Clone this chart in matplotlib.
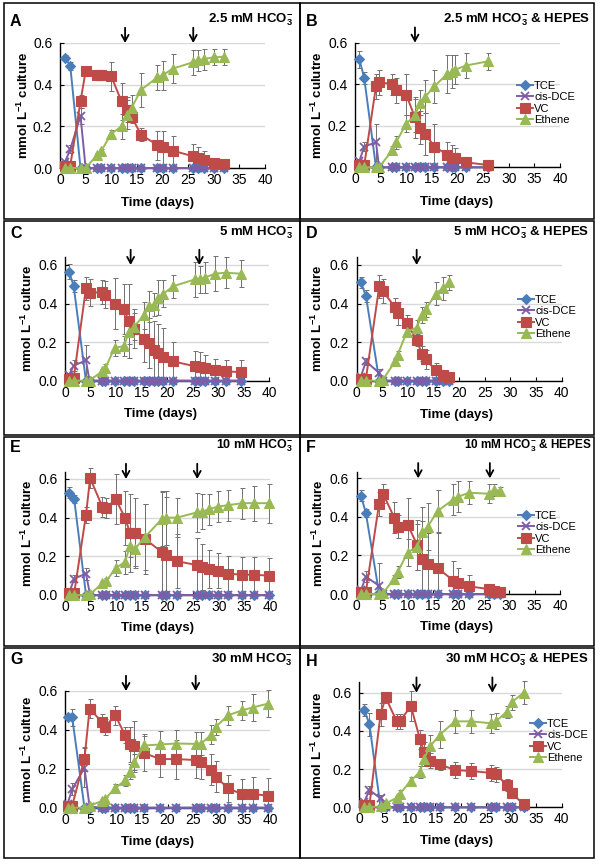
import matplotlib
matplotlib.use('Agg')
import matplotlib.pyplot as plt
from matplotlib.patches import Rectangle

plt.rcParams['font.family'] = ['Liberation Sans', 'DejaVu Sans']
plt.rcParams['mathtext.fontset'] = 'custom'
plt.rcParams['mathtext.rm'] = 'Liberation Sans:bold'
plt.rcParams['mathtext.it'] = 'Liberation Sans:bold'
plt.rcParams['mathtext.bf'] = 'Liberation Sans:bold'

# ---- data (mmol/L culture vs days) ----
A_t = [1, 2, 4, 5, 7.3, 8, 10, 12, 13, 14, 15.8, 19, 20, 22, 26, 27, 28, 30, 32]
A_tce = [0.53, 0.49, 0, 0, 0, 0, 0, 0, 0, 0, 0, 0, 0, 0, 0, 0, 0, 0, 0]
A_dce = [0.03, 0.09, 0.25, 0, 0, 0, 0, 0, 0, 0, 0, 0, 0, 0, 0, 0, 0, 0, 0]
A_vc = [0.01, 0.01, 0.32, 0.465, 0.445, 0.445, 0.44, 0.32, 0.28, 0.245, 0.16, 0.11, 0.10, 0.083, 0.056, 0.05, 0.04, 0.024, 0.02]
A_eth = [0, 0, 0, 0, 0.064, 0.08, 0.164, 0.20, 0.255, 0.29, 0.375, 0.435, 0.445, 0.477, 0.508, 0.517, 0.522, 0.532, 0.533]
A_tce_err = [0.01, 0.02, 0, 0, 0, 0, 0, 0, 0, 0, 0, 0, 0, 0, 0, 0, 0, 0, 0]
A_dce_err = [0.01, 0.02, 0.04, 0, 0, 0, 0, 0, 0, 0, 0, 0, 0, 0, 0, 0, 0, 0, 0]
A_vc_err = [0.01, 0.01, 0.03, 0.025, 0.01, 0.01, 0.07, 0.09, 0.06, 0.03, 0.03, 0.07, 0.08, 0.07, 0.06, 0.05, 0.04, 0.02, 0.02]
A_eth_err = [0, 0, 0, 0, 0.01, 0.01, 0.02, 0.06, 0.07, 0.06, 0.08, 0.06, 0.07, 0.07, 0.06, 0.05, 0.05, 0.04, 0.04]

B_t = [0.85, 1.8, 4.1, 4.7, 7.3, 8, 10, 11.7, 12.7, 13.7, 15.5, 18, 19, 19.6, 21.6, 25.9]
B_tce = [0.52, 0.43, 0, 0, 0, 0, 0, 0, 0, 0, 0, 0, 0, 0, 0, 0]
B_dce = [0.03, 0.10, 0.12, 0, 0, 0, 0, 0, 0, 0, 0, 0, 0, 0, 0, 0]
B_vc = [0.01, 0.01, 0.39, 0.41, 0.40, 0.37, 0.35, 0.24, 0.19, 0.16, 0.10, 0.06, 0.047, 0.043, 0.024, 0.011]
B_eth = [0, 0, 0, 0, 0.083, 0.12, 0.21, 0.25, 0.31, 0.34, 0.39, 0.45, 0.46, 0.47, 0.49, 0.51]
B_tce_err = [0.04, 0.03, 0, 0, 0, 0, 0, 0, 0, 0, 0, 0, 0, 0, 0, 0]
B_dce_err = [0.01, 0.02, 0.09, 0, 0, 0, 0, 0, 0, 0, 0, 0, 0, 0, 0, 0]
B_vc_err = [0.01, 0.01, 0.06, 0.06, 0.05, 0.06, 0.10, 0.10, 0.08, 0.10, 0.11, 0.06, 0.06, 0.05, 0.02, 0.02]
B_eth_err = [0, 0, 0, 0, 0.02, 0.03, 0.04, 0.08, 0.06, 0.08, 0.08, 0.09, 0.08, 0.07, 0.06, 0.04]

C_t = [0.8, 1.7, 4.1, 4.8, 7.3, 7.9, 9.7, 11.5, 12.5, 13.5, 15.5, 16.5, 17.4, 18.3, 19.2, 21.2, 25.4, 26.4, 27.4, 29.4, 31.5, 34.4]
C_tce = [0.565, 0.49, 0, 0, 0, 0, 0, 0, 0, 0, 0, 0, 0, 0, 0, 0, 0, 0, 0, 0, 0, 0]
C_dce = [0.03, 0.078, 0.105, 0, 0, 0, 0, 0, 0, 0, 0, 0, 0, 0, 0, 0, 0, 0, 0, 0, 0, 0]
C_vc = [0.01, 0.012, 0.48, 0.455, 0.46, 0.445, 0.40, 0.37, 0.31, 0.27, 0.215, 0.195, 0.16, 0.145, 0.125, 0.10, 0.075, 0.07, 0.065, 0.055, 0.048, 0.045]
C_eth = [0, 0, 0, 0, 0.05, 0.065, 0.17, 0.18, 0.25, 0.28, 0.34, 0.385, 0.395, 0.43, 0.45, 0.49, 0.525, 0.525, 0.535, 0.555, 0.56, 0.555]
C_tce_err = [0.04, 0.03, 0, 0, 0, 0, 0, 0, 0, 0, 0, 0, 0, 0, 0, 0, 0, 0, 0, 0, 0, 0]
C_dce_err = [0.01, 0.03, 0.08, 0, 0, 0, 0, 0, 0, 0, 0, 0, 0, 0, 0, 0, 0, 0, 0, 0, 0, 0]
C_vc_err = [0.01, 0.01, 0.06, 0.07, 0.06, 0.07, 0.13, 0.13, 0.19, 0.10, 0.12, 0.13, 0.15, 0.15, 0.15, 0.10, 0.08, 0.08, 0.07, 0.06, 0.06, 0.06]
C_eth_err = [0, 0, 0, 0, 0.01, 0.02, 0.04, 0.05, 0.06, 0.07, 0.07, 0.08, 0.06, 0.09, 0.07, 0.06, 0.09, 0.07, 0.08, 0.09, 0.08, 0.07]

D_t = [0.8, 1.8, 4.4, 5.1, 7.5, 8, 9.8, 11.7, 12.7, 13.5, 15.4, 16.8, 18.1]
D_tce = [0.51, 0.44, 0, 0, 0, 0, 0, 0, 0, 0, 0, 0, 0]
D_dce = [0.02, 0.10, 0.04, 0, 0, 0, 0, 0, 0, 0, 0, 0, 0]
D_vc = [0.01, 0.01, 0.49, 0.465, 0.38, 0.35, 0.30, 0.21, 0.14, 0.11, 0.054, 0.03, 0.017]
D_eth = [0, 0, 0, 0.005, 0.10, 0.135, 0.255, 0.275, 0.34, 0.37, 0.45, 0.48, 0.51]
D_tce_err = [0.03, 0.03, 0, 0, 0, 0, 0, 0, 0, 0, 0, 0, 0]
D_dce_err = [0.01, 0.02, 0.02, 0, 0, 0, 0, 0, 0, 0, 0, 0, 0]
D_vc_err = [0.01, 0.01, 0.06, 0.06, 0.05, 0.06, 0.04, 0.03, 0.04, 0.05, 0.04, 0.02, 0.02]
D_eth_err = [0, 0, 0, 0, 0.02, 0.02, 0.02, 0.04, 0.04, 0.04, 0.06, 0.06, 0.04]

E_t = [0.8, 1.8, 4.1, 4.9, 7.3, 8, 9.9, 11.7, 12.7, 13.7, 15.6, 19, 19.8, 21.8, 25.7, 26.7, 28, 29.8, 31.9, 34.6, 36.8, 39.8]
E_tce = [0.53, 0.495, 0, 0, 0, 0, 0, 0, 0, 0, 0, 0, 0, 0, 0, 0, 0, 0, 0, 0, 0, 0]
E_dce = [0.01, 0.085, 0.11, 0, 0, 0, 0, 0, 0, 0, 0, 0, 0, 0, 0, 0, 0, 0, 0, 0, 0, 0]
E_vc = [0.01, 0.01, 0.415, 0.605, 0.455, 0.45, 0.495, 0.40, 0.32, 0.32, 0.29, 0.22, 0.205, 0.175, 0.155, 0.145, 0.135, 0.125, 0.11, 0.105, 0.105, 0.10]
E_eth = [0, 0, 0, 0.005, 0.06, 0.07, 0.14, 0.17, 0.255, 0.24, 0.30, 0.395, 0.40, 0.40, 0.427, 0.43, 0.443, 0.457, 0.465, 0.475, 0.475, 0.475]
E_tce_err = [0.03, 0.02, 0, 0, 0, 0, 0, 0, 0, 0, 0, 0, 0, 0, 0, 0, 0, 0, 0, 0, 0, 0]
E_dce_err = [0.01, 0.02, 0.03, 0, 0, 0, 0, 0, 0, 0, 0, 0, 0, 0, 0, 0, 0, 0, 0, 0, 0, 0]
E_vc_err = [0.01, 0.01, 0.04, 0.05, 0.05, 0.05, 0.13, 0.14, 0.20, 0.18, 0.18, 0.32, 0.30, 0.14, 0.14, 0.12, 0.10, 0.09, 0.09, 0.09, 0.09, 0.09]
E_eth_err = [0, 0, 0, 0, 0.01, 0.02, 0.04, 0.06, 0.06, 0.09, 0.17, 0.14, 0.14, 0.10, 0.10, 0.09, 0.08, 0.08, 0.08, 0.08, 0.09, 0.10]

F_t = [0.85, 1.8, 4.4, 5.2, 7.4, 8.1, 10, 11.9, 12.9, 14, 15.9, 19, 20, 22.1, 26.1, 27.1, 28.2]
F_tce = [0.51, 0.42, 0.005, 0, 0, 0, 0, 0, 0, 0, 0, 0, 0, 0, 0, 0, 0]
F_dce = [0.02, 0.09, 0.043, 0, 0, 0, 0, 0, 0, 0, 0, 0, 0, 0, 0, 0, 0]
F_vc = [0.01, 0.01, 0.467, 0.52, 0.395, 0.35, 0.36, 0.255, 0.18, 0.155, 0.135, 0.07, 0.055, 0.04, 0.025, 0.017, 0.01]
F_eth = [0, 0, 0, 0.005, 0.08, 0.115, 0.215, 0.245, 0.32, 0.35, 0.43, 0.49, 0.505, 0.525, 0.52, 0.54, 0.535]
F_tce_err = [0.03, 0.02, 0, 0, 0, 0, 0, 0, 0, 0, 0, 0, 0, 0, 0, 0, 0]
F_dce_err = [0.01, 0.03, 0.12, 0, 0, 0, 0, 0, 0, 0, 0, 0, 0, 0, 0, 0, 0]
F_vc_err = [0.01, 0.01, 0.06, 0.05, 0.08, 0.06, 0.14, 0.13, 0.20, 0.16, 0.18, 0.10, 0.08, 0.06, 0.02, 0.02, 0.01]
F_eth_err = [0, 0, 0, 0, 0.02, 0.03, 0.07, 0.12, 0.13, 0.12, 0.11, 0.08, 0.08, 0.06, 0.05, 0.03, 0.02]

G_t = [0.5, 1.4, 3.8, 4.8, 7.2, 7.8, 9.8, 11.7, 12.6, 13.5, 15.5, 18.6, 21.6, 25.6, 26.6, 28.5, 29.4, 31.8, 34.5, 36.6, 39.6]
G_tce = [0.465, 0.465, 0, 0, 0, 0, 0, 0, 0, 0, 0, 0, 0, 0, 0, 0, 0, 0, 0, 0, 0]
G_dce = [0.02, 0.095, 0.205, 0.005, 0, 0, 0, 0, 0, 0, 0, 0, 0, 0, 0, 0, 0, 0, 0, 0, 0]
G_vc = [0.01, 0.01, 0.25, 0.51, 0.44, 0.415, 0.475, 0.375, 0.325, 0.315, 0.28, 0.25, 0.25, 0.245, 0.235, 0.195, 0.16, 0.10, 0.07, 0.07, 0.062]
G_eth = [0, 0, 0, 0.01, 0.035, 0.045, 0.10, 0.14, 0.185, 0.235, 0.32, 0.325, 0.33, 0.328, 0.33, 0.375, 0.415, 0.475, 0.50, 0.515, 0.535]
G_tce_err = [0.01, 0.045, 0, 0, 0, 0, 0, 0, 0, 0, 0, 0, 0, 0, 0, 0, 0, 0, 0, 0, 0]
G_dce_err = [0.01, 0.03, 0.10, 0, 0, 0, 0, 0, 0, 0, 0, 0, 0, 0, 0, 0, 0, 0, 0, 0, 0]
G_vc_err = [0.01, 0.01, 0.06, 0.05, 0.04, 0.04, 0.05, 0.04, 0.09, 0.13, 0.09, 0.09, 0.10, 0.09, 0.09, 0.08, 0.08, 0.07, 0.08, 0.09, 0.09]
G_eth_err = [0, 0, 0, 0, 0.01, 0.01, 0.02, 0.03, 0.04, 0.04, 0.06, 0.07, 0.07, 0.06, 0.06, 0.05, 0.04, 0.05, 0.05, 0.07, 0.07]

H_t = [1, 2, 4.2, 5.2, 7.4, 8, 10.2, 12, 12.8, 14, 15.9, 18.9, 22.1, 26, 27.1, 29.1, 30.1, 32.5]
H_tce = [0.51, 0.435, 0, 0, 0, 0, 0, 0, 0, 0, 0, 0, 0, 0, 0, 0, 0, 0]
H_dce = [0.03, 0.09, 0.047, 0, 0, 0, 0, 0, 0, 0, 0, 0, 0, 0, 0, 0, 0, 0]
H_vc = [0.01, 0.01, 0.487, 0.575, 0.45, 0.45, 0.53, 0.355, 0.29, 0.245, 0.225, 0.195, 0.19, 0.18, 0.172, 0.117, 0.073, 0.016]
H_eth = [0, 0, 0.005, 0.02, 0.05, 0.07, 0.14, 0.185, 0.255, 0.32, 0.38, 0.45, 0.45, 0.44, 0.452, 0.50, 0.55, 0.60]
H_tce_err = [0.03, 0.06, 0, 0, 0, 0, 0, 0, 0, 0, 0, 0, 0, 0, 0, 0, 0, 0]
H_dce_err = [0.01, 0.02, 0.02, 0, 0, 0, 0, 0, 0, 0, 0, 0, 0, 0, 0, 0, 0, 0]
H_vc_err = [0.01, 0.01, 0.06, 0.03, 0.04, 0.04, 0.08, 0.05, 0.05, 0.04, 0.03, 0.04, 0.04, 0.04, 0.04, 0.03, 0.02, 0.01]
H_eth_err = [0, 0, 0, 0, 0.01, 0.02, 0.02, 0.03, 0.04, 0.06, 0.07, 0.06, 0.06, 0.05, 0.04, 0.03, 0.04, 0.06]

# arrows (feeding days) and panel titles
A_arrows, B_arrows, C_arrows, D_arrows = [12.7, 26.0], [11.7], [12.85, 26.3], [11.7]
E_arrows, F_arrows, G_arrows, H_arrows = [11.9, 25.8], [12.1, 26.2], [11.9, 25.5], [11.3, 26.3]

HCO3 = r'HCO$_{3}^{-}$'
titles = ['2.5 mM ' + HCO3, '2.5 mM ' + HCO3 + ' & HEPES',
          '5 mM ' + HCO3, '5 mM ' + HCO3 + ' & HEPES',
          '10 mM ' + HCO3, '10 mM ' + HCO3 + ' & HEPES',
          '30 mM ' + HCO3, '30 mM ' + HCO3 + ' & HEPES']
series_names = ['TCE', 'cis-DCE', 'VC', 'Ethene']
colors = ['#4A7EBB', '#7E5DA6', '#BE4B48', '#98B954']
markers = ['D', 'x', 's', '^']
msizes = [5, 6, 7, 7.5]

W, H = 600, 867
fig = plt.figure(figsize=(6, 8.67), dpi=100)

# pixel layout: x at day 0, x at day 40, y at 0, y at 0.6, y max
layout = [(60, 265, 168, 43, 0.6), (355, 560, 167.3, 42.7, 0.6),
          (65, 269.3, 380.7, 265, 0.643), (356.7, 561.7, 380.7, 265, 0.643),
          (65, 270, 595, 479, 0.638), (356.7, 560, 594, 478.3, 0.635),
          (65, 270, 807.7, 691, 0.6), (359.3, 561.7, 807.3, 692.7, 0.655)]
letters = 'ABCDEFGH'
letter_pos = [(10, 22), (306, 22), (10, 234), (306, 234), (10, 447), (306, 447), (10, 660), (306, 661)]
title_pos = [(293, 20), (590, 20), (293, 233), (589, 233), (293, 446), (592, 446), (293, 660), (589, 660)]
title_size = [9.5, 9.5, 9.5, 9.5, 9, 8.5, 9.5, 9.5]
ylab_x = [23, 317, 27, 317, 27, 318, 27, 317]
xlab_pos = [(158, 203), (456, 201.7), (160, 414.3), (456, 415), (158, 627.7), (456, 627.3), (158, 841.7), (456, 841)]
legend_pos = {1: (517, 81), 3: (518, 295), 5: (518, 511), 7: (530, 719)}

panels = [
    (A_t, [A_tce, A_dce, A_vc, A_eth], [A_tce_err, A_dce_err, A_vc_err, A_eth_err], A_arrows),
    (B_t, [B_tce, B_dce, B_vc, B_eth], [B_tce_err, B_dce_err, B_vc_err, B_eth_err], B_arrows),
    (C_t, [C_tce, C_dce, C_vc, C_eth], [C_tce_err, C_dce_err, C_vc_err, C_eth_err], C_arrows),
    (D_t, [D_tce, D_dce, D_vc, D_eth], [D_tce_err, D_dce_err, D_vc_err, D_eth_err], D_arrows),
    (E_t, [E_tce, E_dce, E_vc, E_eth], [E_tce_err, E_dce_err, E_vc_err, E_eth_err], E_arrows),
    (F_t, [F_tce, F_dce, F_vc, F_eth], [F_tce_err, F_dce_err, F_vc_err, F_eth_err], F_arrows),
    (G_t, [G_tce, G_dce, G_vc, G_eth], [G_tce_err, G_dce_err, G_vc_err, G_eth_err], G_arrows),
    (H_t, [H_tce, H_dce, H_vc, H_eth], [H_tce_err, H_dce_err, H_vc_err, H_eth_err], H_arrows),
]

# panel frames
cols = [(4, 300), (300, 594)]
rows = [(3, 219), (221, 435), (437, 646), (648, 858)]
for (y0, y1) in rows:
    for (x0, x1) in cols:
        fig.patches.append(Rectangle((x0 / W, 1 - y1 / H), (x1 - x0) / W, (y1 - y0) / H,
                                     transform=fig.transFigure, fill=False,
                                     edgecolor='black', lw=1.1))

for i, (t, vals, errs, arrows) in enumerate(panels):
    x0, x40, py0, py6, ytop = layout[i]
    ppu = (py0 - py6) / 0.6
    ptop = py0 - ppu * ytop
    ax = fig.add_axes([x0 / W, 1 - py0 / H, (x40 - x0) / W, (py0 - ptop) / H])
    ax.set_xlim(0, 40)
    ax.set_ylim(0, ytop)
    ax.set_axisbelow(True)
    ax.yaxis.grid(True, color='#D9D9D9', lw=1)
    ax.set_xticks(range(0, 41, 5))
    ax.set_yticks([0, 0.2, 0.4, 0.6])
    ax.set_yticklabels(['0.0', '0.2', '0.4', '0.6'])
    ax.tick_params(labelsize=10, direction='in', length=3, width=0.8, pad=3.5)
    ax.tick_params(axis='y', pad=5.5)
    for s in ['top', 'right']:
        ax.spines[s].set_visible(False)
    for s in ['left', 'bottom']:
        ax.spines[s].set_linewidth(1)

    for v, e, c in zip(vals, errs, colors):
        pts = [(tt, vv, ee) for tt, vv, ee in zip(t, v, e) if ee > 0]
        if pts:
            lower = [min(p[2], p[1]) for p in pts]
            upper = [p[2] for p in pts]
            ax.errorbar([p[0] for p in pts], [p[1] for p in pts], yerr=[lower, upper],
                        fmt='none', ecolor='#707070', elinewidth=0.7, capsize=1.8,
                        capthick=0.7, clip_on=False, zorder=2)
    for v, c, m, ms, name in zip(vals, colors, markers, msizes, series_names):
        ax.plot(t, v, '-', color=c, marker=m, ms=ms, mec=c, mew=1.3 if m == 'x' else 0.8,
                lw=1.4, label=name, clip_on=False, zorder=3)

    for a in arrows:
        ax.annotate('', xy=(a, 0.6), xytext=(0, 11), textcoords='offset points',
                    arrowprops=dict(arrowstyle='->,head_length=0.45,head_width=0.25',
                                    lw=1.3, color='black', shrinkA=0, shrinkB=0),
                    annotation_clip=False)

    if i in legend_pos:
        lx, ly = legend_pos[i]
        ax.legend(loc='upper left', bbox_to_anchor=(lx / W, 1 - ly / H),
                  bbox_transform=fig.transFigure, frameon=False, fontsize=8,
                  borderpad=0, labelspacing=0.12, handlelength=1.4,
                  handletextpad=0.15, borderaxespad=0)

    ylab = r'mmol L$^{-1}$ culutre' if i == 1 else r'mmol L$^{-1}$ culture'
    fig.text(ylab_x[i] / W, 1 - ((py0 + ptop) / 2) / H, ylab, rotation=90,
             ha='center', va='center', fontsize=9.5, fontweight='bold')
    fig.text(xlab_pos[i][0] / W, 1 - xlab_pos[i][1] / H, 'Time (days)',
             ha='center', va='center', fontsize=9.5, fontweight='bold')
    fig.text(letter_pos[i][0] / W, 1 - letter_pos[i][1] / H, letters[i],
             ha='left', va='center', fontsize=11.5, fontweight='bold')
    fig.text(title_pos[i][0] / W, 1 - title_pos[i][1] / H, titles[i],
             ha='right', va='center', fontsize=title_size[i], fontweight='bold')

fig.savefig('out.png', dpi=100)
